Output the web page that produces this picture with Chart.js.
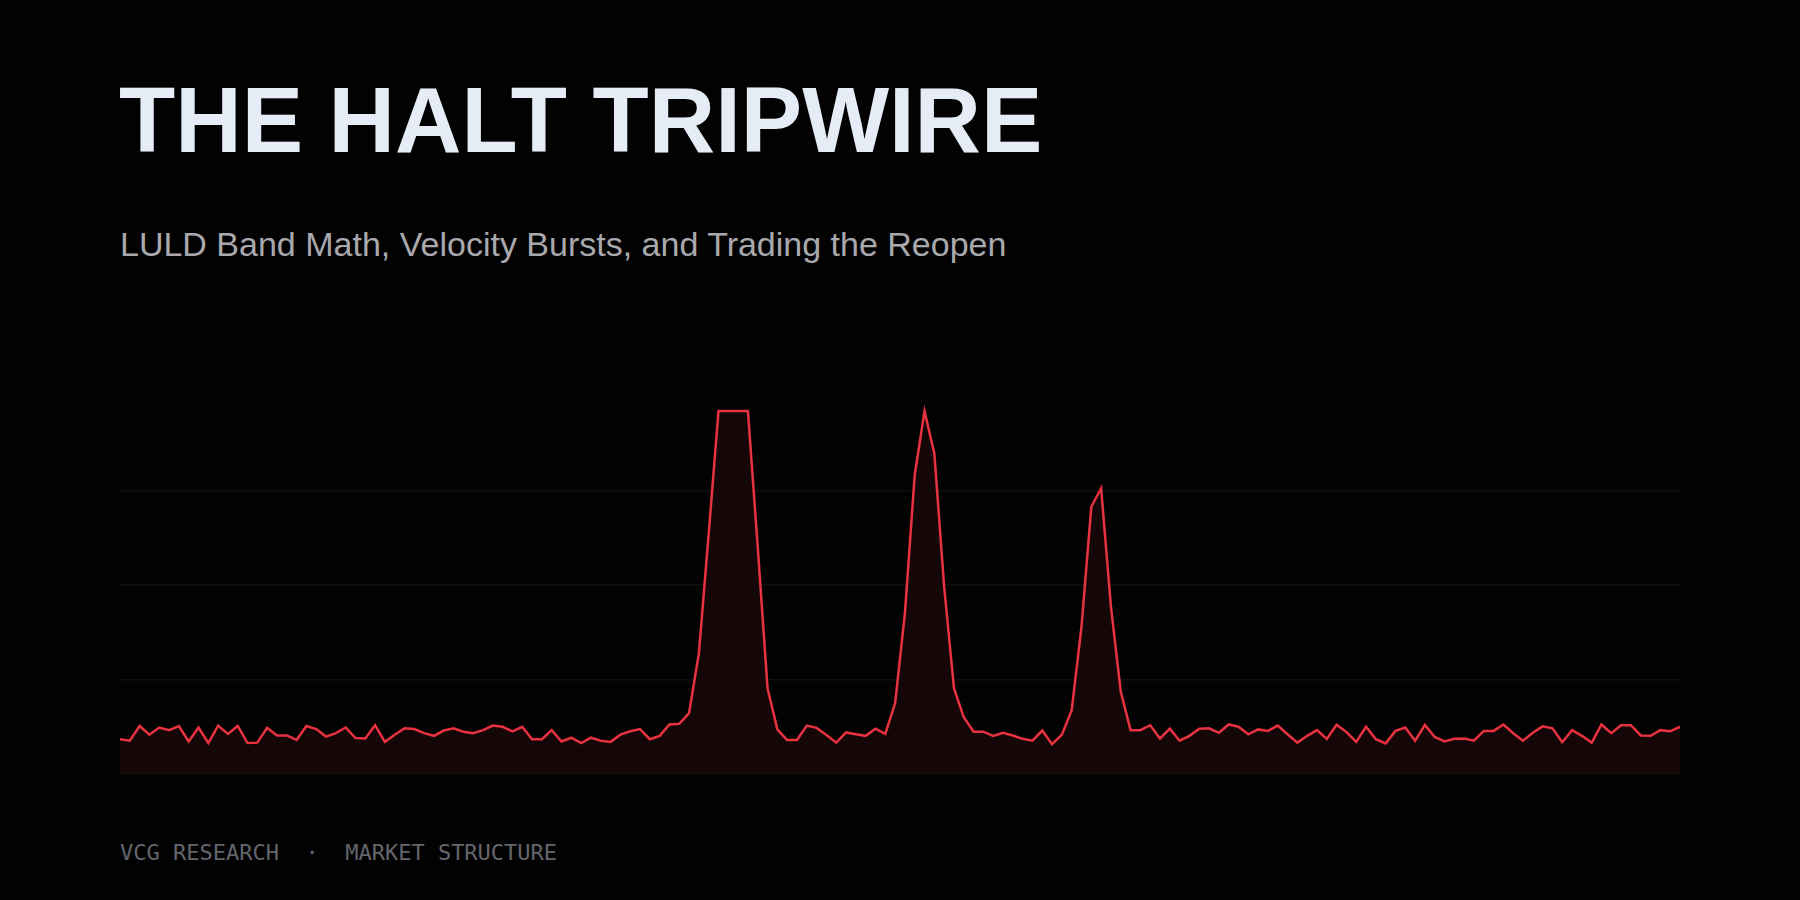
<!DOCTYPE html>
<html><head><meta charset="utf-8">
<script src="https://cdn.jsdelivr.net/npm/chart.js@4"></script>
<style>
html,body{margin:0;padding:0;background:#020203;width:1800px;height:900px;overflow:hidden}
#title{position:absolute;left:119px;top:68px;font-family:"Liberation Sans",Arial,sans-serif;font-weight:700;font-size:92px;color:#e6ecf6;margin:0}
#sub{position:absolute;left:120px;top:225px;font-family:"Liberation Sans",Arial,sans-serif;font-size:34px;color:#a9a9ad}
#foot{position:absolute;left:120px;top:840px;font-family:"DejaVu Sans Mono",monospace;font-size:22px;color:#63666c;white-space:pre}
#wrap{position:absolute;left:120px;top:396px;width:1560px;height:386px}
</style></head><body>
<div id="title">THE HALT TRIPWIRE</div>
<div id="sub">LULD Band Math, Velocity Bursts, and Trading the Reopen</div>
<div id="foot">VCG RESEARCH  ·  MARKET STRUCTURE</div>
<div id="wrap"><canvas id="c"></canvas></div>
<script>
const values = [
9.2,8.8,12.7,10.4,12.3,11.6,12.7,8.6,12.3,8.2,12.8,10.6,12.7,8.2,8.3,12.2,10.2,10.2,9.0,12.7,
11.9,9.9,10.8,12.3,9.5,9.4,12.9,8.5,10.4,12.1,11.9,10.8,10.1,11.5,12.1,11.2,10.8,11.6,12.8,12.5,
11.3,12.5,9.2,9.2,11.6,8.6,9.6,8.2,9.6,8.8,8.5,10.4,11.3,11.9,9.2,10.1,13.1,13.3,16.1,31.9,
63.5,96,96,96,96,60,22.7,11.8,9.0,9.0,12.8,12.2,10.3,8.3,11.0,10.5,10.1,12.0,10.6,18.7,
42.5,79.1,96,84.8,49.6,22.7,15.0,11.2,11.2,10.1,10.9,10.2,9.3,8.8,11.5,7.9,10.4,16.9,39.0,70.7,
75.6,44.3,21.8,11.6,11.6,12.9,9.4,12.0,8.8,10.1,12.0,12.1,10.9,13.1,12.5,10.5,11.8,11.4,12.8,10.5,
8.3,10.1,11.6,9.3,13.0,11.1,8.5,12.5,9.2,8.1,11.4,12.3,8.8,13.0,9.8,8.6,9.3,9.4,8.8,11.4,
11.4,13.1,10.8,8.8,10.9,12.6,12.1,8.4,11.6,10.1,8.3,13.1,10.8,12.9,12.9,10.2,10.1,11.6,11.3,12.5];
const labels = values.map((v,i)=>String(i));
const yMin = 0, yMax = 100, yStep = 25;
new Chart(document.getElementById('c'),{
  type:'line',
  data:{labels,datasets:[{data:values,borderColor:'#e8323f',borderWidth:2.5,backgroundColor:'#150608',fill:'origin',pointRadius:0,tension:0}]},
  options:{responsive:true,maintainAspectRatio:false,animation:false,
    layout:{padding:0},
    plugins:{legend:{display:false},tooltip:{enabled:false}},
    scales:{
      x:{display:true,offset:false,grid:{display:false},border:{display:false},ticks:{display:false}},
      y:{min:yMin,max:yMax,ticks:{display:false,stepSize:yStep},grid:{color:'#0f0f11',lineWidth:1.5,drawTicks:false},border:{display:false}}
    }}
});
</script>
</body></html>
